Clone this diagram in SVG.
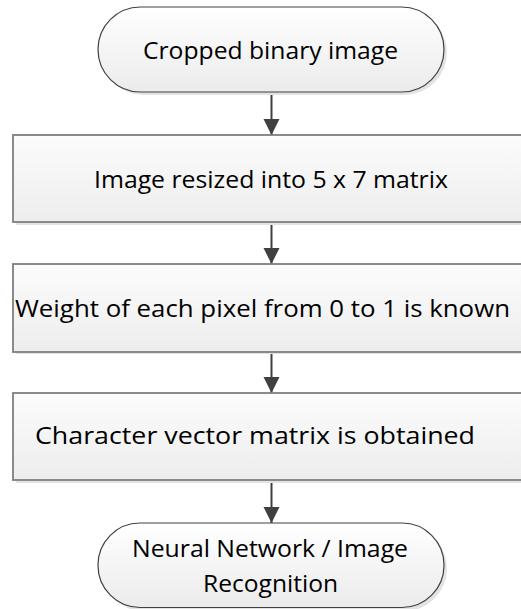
<svg xmlns="http://www.w3.org/2000/svg" width="521" height="609" viewBox="0 0 521 609">
<style>
.term{fill:url(#gt);stroke:#404040;stroke-width:1.2}
.box{fill:url(#gb);stroke:#7f7f7f;stroke-width:1.8}
.sh{fill:#e3e3e3}
.t{font-family:"Open Sans","Liberation Sans",sans-serif;font-size:24px;fill:#000;text-anchor:middle}
.c{stroke:#404040;stroke-width:2;fill:none;marker-end:url(#ah)}
</style>
<defs>
<linearGradient id="gt" x1="0" y1="0" x2="0" y2="1"><stop offset="0" stop-color="#ffffff"/><stop offset="1" stop-color="#ebebeb"/></linearGradient>
<linearGradient id="gb" x1="0" y1="0" x2="0" y2="1"><stop offset="0" stop-color="#fcfcfc"/><stop offset="1" stop-color="#ededed"/></linearGradient>
<marker id="ah" markerUnits="userSpaceOnUse" markerWidth="16" markerHeight="18" refX="16" refY="8" orient="auto"><path d="M0,0 L16,8 L0,16 Z" fill="#404040"/></marker>
</defs>
<rect width="521" height="609" fill="#ffffff"/>
<g id="connectors">
<line class="c" x1="271.5" y1="92" x2="271.5" y2="135"/>
<line class="c" x1="271.5" y1="222" x2="271.5" y2="264"/>
<line class="c" x1="271.5" y1="352" x2="271.5" y2="393"/>
<line class="c" x1="271.5" y1="480" x2="271.5" y2="523"/>
</g>
<g id="n1">
<rect class="sh" x="101" y="10" width="346" height="85" rx="42.5"/>
<rect class="term" x="98" y="7" width="346" height="85" rx="42.5"/>
<text class="t" x="270.5" y="59" textLength="255" lengthAdjust="spacingAndGlyphs">Cropped binary image</text>
</g>
<g id="n2">
<rect class="sh" x="16" y="138" width="520" height="87"/>
<rect class="box" x="13" y="135" width="520" height="87"/>
<text class="t" x="271" y="188" textLength="354" lengthAdjust="spacingAndGlyphs">Image resized into 5 x 7 matrix</text>
</g>
<g id="n3">
<rect class="sh" x="16" y="267" width="520" height="87"/>
<rect class="box" x="13" y="264" width="520" height="88"/>
<text class="t" x="262.5" y="317" textLength="495" lengthAdjust="spacingAndGlyphs">Weight of each pixel from 0 to 1 is known</text>
</g>
<g id="n4">
<rect class="sh" x="16" y="396" width="520" height="87"/>
<rect class="box" x="13" y="393" width="520" height="87"/>
<text class="t" x="255" y="444" textLength="440" lengthAdjust="spacingAndGlyphs">Character vector matrix is obtained</text>
</g>
<g id="n5">
<rect class="sh" x="101" y="526" width="346" height="85" rx="42.5"/>
<rect class="term" x="98" y="523" width="346" height="84.5" rx="42"/>
<text class="t" x="270" y="557" textLength="276" lengthAdjust="spacingAndGlyphs">Neural Network / Image</text>
<text class="t" x="270.5" y="592" textLength="135" lengthAdjust="spacingAndGlyphs">Recognition</text>
</g>
</svg>
